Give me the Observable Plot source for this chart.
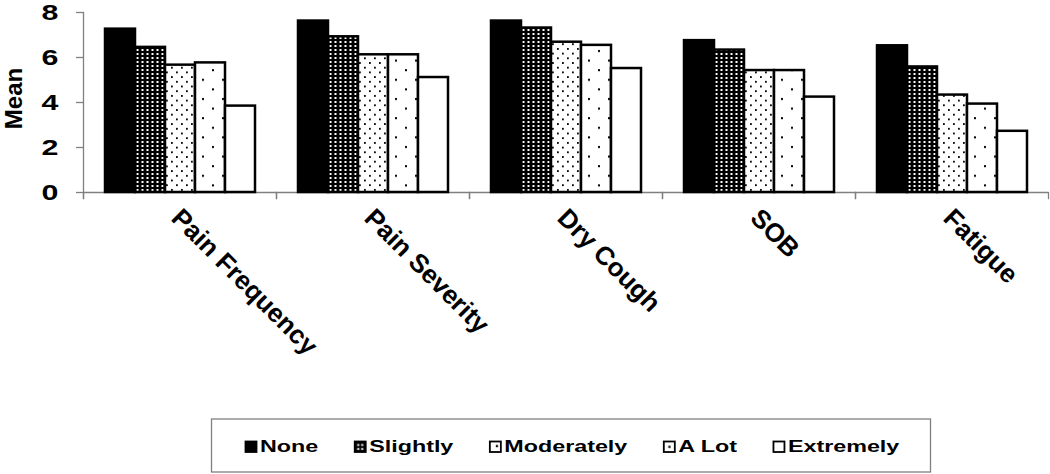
<!DOCTYPE html>
<html><head><meta charset="utf-8">
<script src="https://cdn.jsdelivr.net/npm/d3@7"></script>
<script src="https://cdn.jsdelivr.net/npm/@observablehq/plot@0.6"></script>
<style>
html,body{margin:0;padding:0;background:#fff;overflow:hidden;}
#chart svg{display:block;}
</style></head><body><div id="chart"></div><script>
const categories = ["Pain Frequency", "Pain Severity", "Dry Cough", "SOB", "Fatigue"];
const levels = ["None", "Slightly", "Moderately", "A Lot", "Extremely"];
const noneValues = [7.26, 7.62, 7.62, 6.75, 6.52];
const slightlyValues = [6.45, 6.92, 7.31, 6.33, 5.58];
const moderatelyValues = [5.66, 6.12, 6.68, 5.42, 4.33];
const aLotValues = [5.76, 6.12, 6.54, 5.42, 3.93];
const extremelyValues = [3.84, 5.11, 5.51, 4.24, 2.72];
const yTicks = [0, 2, 4, 6, 8];
const yLabel = "Mean";

const seriesByLevel = [noneValues, slightlyValues, moderatelyValues, aLotValues, extremelyValues];
const FONT = "'Liberation Sans', Arial, Helvetica, sans-serif";
const patternFill = {
  "None": "#000",
  "Slightly": "url(#pat-slightly)",
  "Moderately": "url(#pat-moderately)",
  "A Lot": "url(#pat-alot)",
  "Extremely": "#fff"
};

const rows = categories.flatMap((category, i) =>
  levels.map((level, j) => ({category, level, value: seriesByLevel[j][i]})));

const AX = "#808080";
const plot = Plot.plot({
  width: 1050, height: 410,
  marginLeft: 83, marginRight: 2, marginTop: 12, marginBottom: 218,
  style: {fontFamily: FONT, background: "#fff", color: "#000"},
  fx: {domain: categories, padding: 0, axis: null},
  x: {domain: levels, paddingInner: 0, paddingOuter: 0.68, axis: null},
  y: {domain: [0, 8], axis: null},
  color: {domain: levels, range: levels.map(l => patternFill[l])},
  marks: [
    Plot.ruleY([0], {stroke: AX, strokeWidth: 1.3}),
    Plot.frame({anchor: "left", stroke: AX, strokeWidth: 1.3, insetTop: 180, insetBottom: -6}),
    Plot.frame({anchor: "right", stroke: AX, strokeWidth: 1.3, insetTop: 180, insetBottom: -6}),
    Plot.frame({anchor: "left", facet: "super", stroke: AX, strokeWidth: 1.3, insetBottom: -6}),
    Plot.axisY({ticks: yTicks, tickSize: 7, tickPadding: 18, stroke: AX, strokeWidth: 1.3, fill: "#000",
      fontSize: 22, fontWeight: "bold", label: null, tickFormat: d => String(d)}),
    Plot.barY(rows, {fx: "category", x: "level", y: "value", fill: "level", stroke: "#000", strokeWidth: 2.5}),
    Plot.text(categories, {fx: d => d, text: d => d, frameAnchor: "bottom", rotate: 45, textAnchor: "start",
      dx: -10, dy: 27, fontSize: 26, fontWeight: "bold", fill: "#000"}),
    Plot.text([yLabel], {fx: () => categories[0], text: d => d, frameAnchor: "left", rotate: -90,
      textAnchor: "middle", lineAnchor: "middle",
      dx: -69, dy: -4, fontSize: 24, fontWeight: "bold", fill: "#000"})
  ]
});

document.getElementById("chart").append(plot);

// patterns
const defs = d3.select(plot).insert("defs", ":first-child");
function addPattern(id, w, h, bg, fg, dots, size, ox = 0, oy = 0) {
  const p = defs.append("pattern").attr("id", id).attr("patternUnits", "userSpaceOnUse")
    .attr("x", ox).attr("y", oy).attr("width", w).attr("height", h);
  p.append("rect").attr("width", w).attr("height", h).attr("fill", bg);
  for (const [x, y] of dots) p.append("rect").attr("x", x).attr("y", y).attr("width", size).attr("height", size).attr("fill", fg);
}
addPattern("pat-slightly", 5, 4, "#000", "#fff", [[1.5, 1]], 2);
addPattern("pat-moderately", 10, 9.4, "#fff", "#000", [[1, 1], [6, 5.7]], 1.8);
addPattern("pat-alot", 20, 19.2, "#fff", "#000", [[2, 2], [12, 11.6]], 2);

// stretched y tick labels
d3.select(plot).selectAll('g[aria-label="y-axis tick label"] text').each(function () {
  const w = this.getComputedTextLength();
  this.setAttribute("textLength", w * 1.38);
  this.setAttribute("lengthAdjust", "spacingAndGlyphs");
});

// legend
const lg = d3.select("#chart").append("svg").attr("width", 1050).attr("height", 64)
  .style("font-family", FONT).style("display", "block");
const lgDefs = lg.append("defs");
lg.append("rect").attr("x", 211.5).attr("y", 9).attr("width", 719).attr("height", 53)
  .attr("fill", "#fff").attr("stroke", AX).attr("stroke-width", 1.3);
const swatchSpec = {
  "Slightly": {bg: "#000", fg: "#fff", dots: [[2.5, 2.5], [6.5, 2.5], [2.5, 6.5], [6.5, 6.5]], size: 2},
  "Moderately": {bg: "#fff", fg: "#000", dots: [[6, 3.5]], size: 2.2},
  "A Lot": {bg: "#fff", fg: "#000", dots: [[4.5, 4.3]], size: 2.2}
};
let cx = 245;
levels.forEach((level, i) => {
  let fill = patternFill[level];
  const spec = swatchSpec[level];
  if (spec) {
    const id = "lg-pat-" + i;
    const p = lgDefs.append("pattern").attr("id", id).attr("patternUnits", "userSpaceOnUse")
      .attr("x", cx + 0.5).attr("y", 31.5).attr("width", 11).attr("height", 10.5);
    p.append("rect").attr("width", 11).attr("height", 10.5).attr("fill", spec.bg);
    for (const [x, y] of spec.dots) p.append("rect").attr("x", x).attr("y", y).attr("width", spec.size).attr("height", spec.size).attr("fill", spec.fg);
    fill = `url(#${id})`;
  }
  lg.append("rect").attr("x", cx + 0.5).attr("y", 31.5).attr("width", 11).attr("height", 10.5)
    .attr("fill", fill).attr("stroke", "#000").attr("stroke-width", 1.8);
  const t = lg.append("text").attr("x", cx + 15).attr("y", 42).attr("font-size", 17)
    .attr("font-weight", "bold").attr("fill", "#000").text(level);
  const w = t.node().getComputedTextLength() * 1.37;
  t.attr("textLength", w).attr("lengthAdjust", "spacingAndGlyphs");
  cx += 15 + w + 36;
});
</script></body></html>
